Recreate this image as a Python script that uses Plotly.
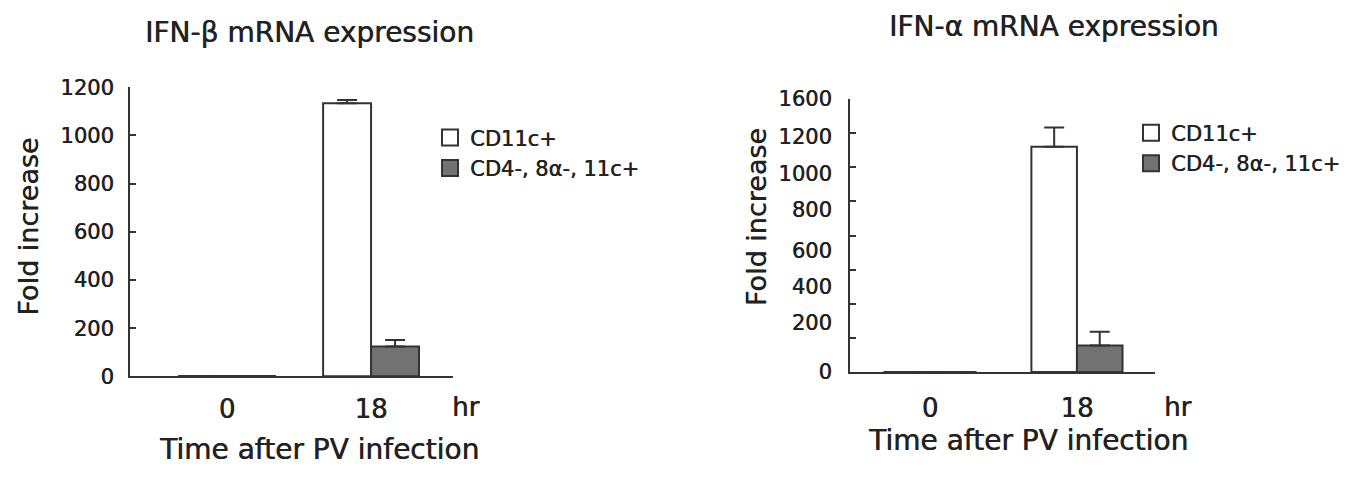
import plotly.graph_objects as go

# ---------------- data ----------------
time_labels = ["0", "18"]
time_pos = [0, 1]
series_names = ["CD11c+", "CD4-, 8α-, 11c+"]

beta_cd11c = [1, 1134]
beta_cd11c_err = [0, 13]
beta_dn = [1, 124]
beta_dn_err = [0, 27]

alpha_cd11c = [1, 1321]
alpha_cd11c_err = [0, 112]
alpha_dn = [1, 156]
alpha_dn_err = [0, 80]

beta_ticks = [0, 200, 400, 600, 800, 1000, 1200]
alpha_tick_marks = [0, 200, 400, 600, 800, 1000, 1200, 1400, 1600]
alpha_tick_labels = ["0", "200", "400", "600", "800", "1000", "1200", "1600"]
alpha_label_pos = [0, 291, 501, 714, 952, 1164, 1382, 1600]

# ---------------- style ----------------
FONT = "DejaVu Sans"
TXT = "#222222"
SHADOW = "0.5px 0 0 #222222"
LINE = "#333333"
GRAY = "#727272"
W, H = 1349, 480


def px(v):
    return v / W


def py(v):
    return 1 - v / H


def fnt(size):
    return dict(size=size, family=FONT, color=TXT, shadow=SHADOW)


fig = go.Figure()


def add_panel(xa, ya, vals1, err1, vals2, err2, width, legend, proxy_y):
    for vals, err, col, off, name in [
        (vals1, err1, "white", -width, series_names[0]),
        (vals2, err2, GRAY, 0, series_names[1]),
    ]:
        fig.add_trace(go.Bar(
            x=time_pos, y=vals, width=width, offset=off,
            marker=dict(color=col, line=dict(color=LINE, width=2)),
            error_y=dict(type="data", array=err, symmetric=False,
                         arrayminus=[0] * len(err), color=LINE,
                         thickness=2, width=10),
            xaxis=xa, yaxis=ya, showlegend=False, name=name,
        ))
        fig.add_trace(go.Scatter(
            x=[None], y=[None], mode="markers", name=name,
            marker=dict(symbol="square", size=16, color=col,
                        line=dict(color=LINE, width=2)),
            xaxis=xa, yaxis=proxy_y, legend=legend, showlegend=True,
        ))


add_panel("x", "y", beta_cd11c, beta_cd11c_err, beta_dn, beta_dn_err,
          0.333, "legend", "y")
add_panel("x2", "y2", alpha_cd11c, alpha_cd11c_err, alpha_dn, alpha_dn_err,
          0.31, "legend2", "y3")

axis_common = dict(showgrid=False, zeroline=False, showline=True,
                   linecolor=LINE, linewidth=2)

fig.update_layout(
    width=W, height=H, autosize=False,
    margin=dict(l=0, r=0, t=0, b=0),
    paper_bgcolor="white", plot_bgcolor="white",
    barmode="overlay",
    font=dict(family=FONT, color=TXT),
    xaxis=dict(domain=[px(130), px(453)], range=[-0.674, 1.569],
               tickvals=time_pos, ticktext=time_labels, ticks="",
               tickfont=fnt(26), ticklabelstandoff=8,
               anchor="y", **axis_common),
    yaxis=dict(domain=[py(383.5), py(79.3)], range=[0, 1200],
               tickvals=beta_ticks, ticks="inside", ticklen=6, tickwidth=2,
               tickcolor=LINE, tickfont=fnt(21), ticklabelstandoff=10,
               anchor="x", **axis_common),
    xaxis2=dict(domain=[px(850), px(1155)], range=[-0.544, 1.531],
                tickvals=time_pos, ticktext=time_labels, ticks="",
                tickfont=fnt(26), ticklabelstandoff=12,
                anchor="y2", **axis_common),
    yaxis2=dict(domain=[py(379), py(91.7)], range=[0, 1600],
                tickvals=alpha_label_pos, ticktext=alpha_tick_labels,
                ticks="", tickfont=fnt(21), ticklabelstandoff=12,
                anchor="x2", **axis_common),
    yaxis3=dict(domain=[py(379), py(91.7)], range=[0, 1600],
                overlaying="y2", anchor="x2", side="left",
                tickvals=alpha_tick_marks, ticks="inside", ticklen=6,
                tickwidth=2, tickcolor=LINE, showticklabels=False,
                showgrid=False, zeroline=False, showline=False),
    legend=dict(x=px(430), y=py(111), xanchor="left", yanchor="top",
                font=fnt(21), bgcolor="rgba(0,0,0,0)",
                itemwidth=30, tracegroupgap=0),
    legend2=dict(x=px(1131), y=py(106), xanchor="left", yanchor="top",
                 font=fnt(21), bgcolor="rgba(0,0,0,0)",
                 itemwidth=30, tracegroupgap=0),
)

annots = [
    dict(text="IFN-β mRNA expression", x=px(309), y=py(22), size=28),
    dict(text="IFN-α mRNA expression", x=px(1054), y=py(15), size=28),
    dict(text="Time after PV infection", x=px(319), y=py(460), size=28),
    dict(text="Time after PV infection", x=px(1028), y=py(451), size=28),
    dict(text="Fold increase", x=px(29), y=py(226), size=27, angle=-90),
    dict(text="Fold increase", x=px(756), y=py(216), size=27, angle=-90),
]
for a in annots:
    fig.add_annotation(text=a["text"], x=a["x"], y=a["y"], xref="paper",
                       yref="paper", showarrow=False, xanchor="center",
                       yanchor="middle", textangle=a.get("angle", 0),
                       font=fnt(a["size"]))

# "hr" unit label, placed just beyond the end of each x axis
fig.add_annotation(text="hr", x=(465 - 130) / (453 - 130), y=py(416),
                   xref="x domain", yref="paper", showarrow=False,
                   xanchor="center", yanchor="middle", font=fnt(26))
fig.add_annotation(text="hr", x=(1177 - 850) / (1155 - 850), y=py(416),
                   xref="x2 domain", yref="paper", showarrow=False,
                   xanchor="center", yanchor="middle", font=fnt(26))

fig.write_html(
    "out.html",
    config={"displayModeBar": False},
    post_script="document.body.style.margin='0';"
                "document.body.style.overflow='hidden';",
)
